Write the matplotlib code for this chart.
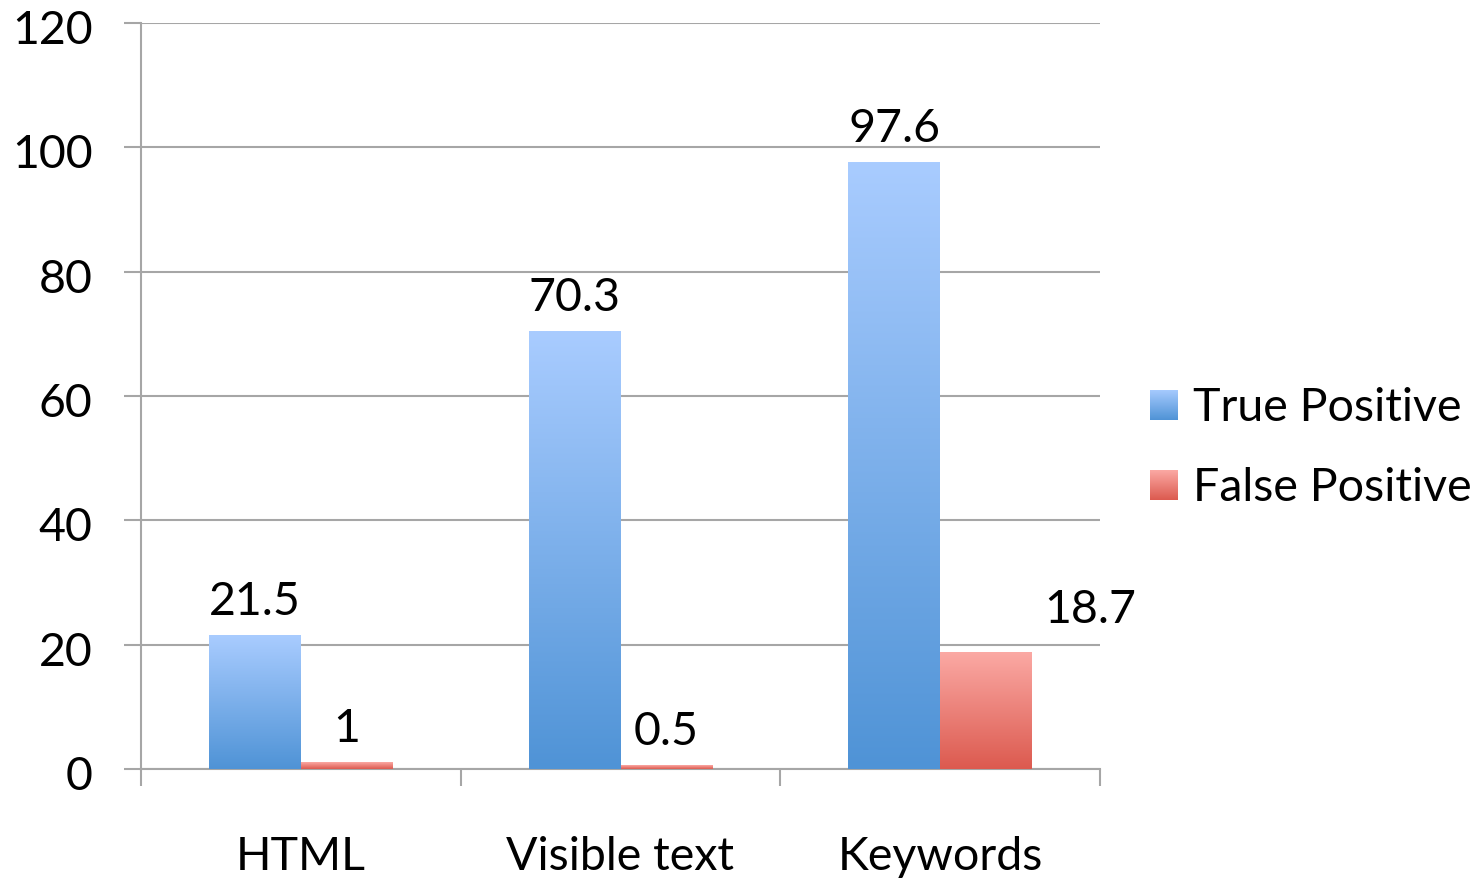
import numpy as np
import matplotlib
matplotlib.use("Agg")
import matplotlib.pyplot as plt
import matplotlib.transforms as mtransforms
from matplotlib.colors import LinearSegmentedColormap

categories = ["HTML", "Visible text", "Keywords"]
true_pos = [21.5, 70.3, 97.6]
false_pos = [1, 0.5, 18.7]
series_names = ["True Positive", "False Positive"]
yticks = [0, 20, 40, 60, 80, 100, 120]

plt.rcParams['font.family'] = ['Lato', 'DejaVu Sans']
FS = 33.5

blue_cmap = LinearSegmentedColormap.from_list("b", ["#4F93D6", "#A9CCFF"])
red_cmap = LinearSegmentedColormap.from_list("r", ["#DC5A4F", "#FBA9A4"])

fig = plt.figure(figsize=(14.84, 8.81), dpi=100)
W, H = 1484, 881
ax = fig.add_axes([141 / W, 1 - 769 / H, (1100 - 141) / W, (769 - 23) / H])

x = np.arange(len(categories))
bw = 0.2875
grad = np.linspace(0, 1, 256).reshape(-1, 1)

def gbar(xc, h, cmap):
    ax.imshow(grad, extent=[xc - bw / 2, xc + bw / 2, 0, h], origin='lower',
              cmap=cmap, aspect='auto', zorder=3)

for i in range(len(categories)):
    gbar(x[i] - bw / 2, true_pos[i], blue_cmap)
    gbar(x[i] + bw / 2, false_pos[i], red_cmap)
    ax.annotate(f"{true_pos[i]:g}", (x[i] - bw / 2, true_pos[i]), xytext=(0, 9),
                textcoords='offset points', ha='center', va='bottom', fontsize=FS)
    dx = 0
    if false_pos[i] > 10:
        dx = 75
    ax.annotate(f"{false_pos[i]:g}", (x[i] + bw / 2, false_pos[i]), xytext=(dx, 9 if dx == 0 else 16),
                textcoords='offset points', ha='center', va='bottom', fontsize=FS)

ax.set_xlim(-0.5, len(categories) - 0.5)
ax.set_ylim(0, 120)
ax.set_yticks(yticks)
ax.set_yticklabels([str(v) for v in yticks], fontsize=FS)
ax.yaxis.grid(True, color='#A6A6A6', linewidth=1.5, zorder=0)
ax.set_axisbelow(True)
ax.set_xticks(np.arange(len(categories) + 1) - 0.5)
ax.set_xticklabels([])
ax.set_xticks(x, minor=True)
ax.set_xticklabels(categories, minor=True, fontsize=FS)
ax.tick_params(axis='x', which='minor', length=0, pad=48)
ax.tick_params(axis='x', which='major', length=12, width=1.5, color='#A6A6A6', direction='out')
ax.tick_params(axis='y', length=12, width=1.5, color='#A6A6A6', direction='out', pad=23)
shift = mtransforms.ScaledTranslation(0, -4 / 100, fig.dpi_scale_trans)
for lbl in ax.get_yticklabels():
    lbl.set_transform(lbl.get_transform() + shift)
for s in ['top', 'right']:
    ax.spines[s].set_visible(False)
for s in ['left', 'bottom']:
    ax.spines[s].set_color('#A6A6A6')
    ax.spines[s].set_linewidth(1.5)

# legend
for j, (name, cmap) in enumerate(zip(series_names, [blue_cmap, red_cmap])):
    ytop = 390 + j * 80
    lax = fig.add_axes([1150 / W, 1 - (ytop + 30) / H, 28 / W, 30 / H])
    lax.imshow(grad, origin='lower', cmap=cmap, aspect='auto', extent=[0, 1, 0, 1])
    lax.axis('off')
    fig.text(1193 / W, 1 - (ytop + 18) / H, name, fontsize=FS, va='center', ha='left')

fig.savefig("out.png", dpi=100)
